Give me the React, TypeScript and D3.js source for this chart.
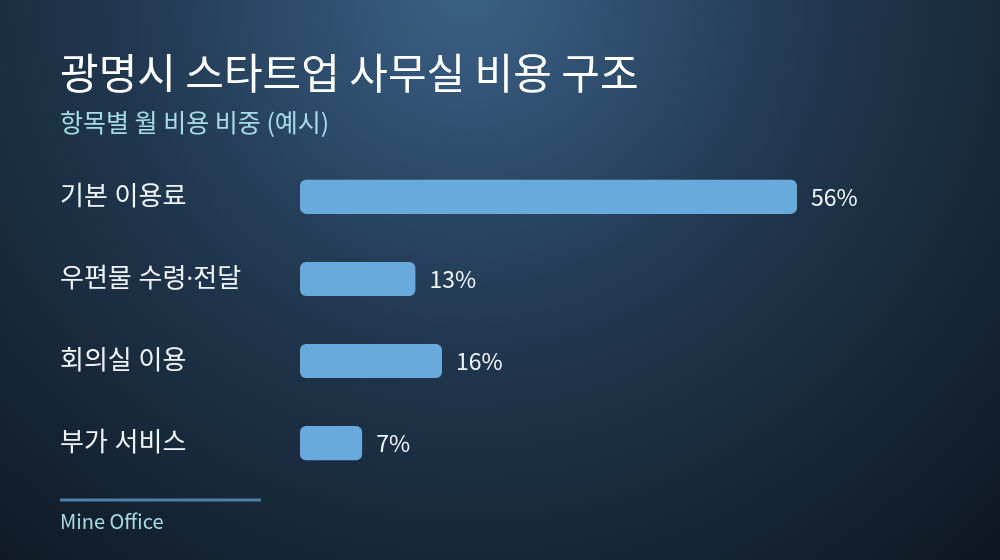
import * as d3 from 'd3';

const width: number = 1000;
const height: number = 560;

// 항목별 비중 (%)
const categories: string[] = ['기본 이용료', '우편물 수령·전달', '회의실 이용', '부가 서비스'];
const shares: number[] = [56, 13, 16, 7];

const title: string = '광명시 스타트업 사무실 비용 구조';
const subtitle: string = '항목별 월 비용 비중 (예시)';
const source: string = 'Mine Office';

const font = '"Noto Sans CJK KR", "Noto Sans", sans-serif';
// latin first so the middle dot stays narrow
const labelFont = '"Noto Sans", "Noto Sans CJK KR", sans-serif';

export default function App() {
  // bar length scale: 56% ends around x=797
  const xScale = d3.scaleLinear()
                   .domain([0, d3.max(shares) as number])
                   .range([300, 797]);

  const yScale = d3.scaleBand()
                   .domain(categories)
                   .range([156, 484])
                   .paddingInner(0.585)
                   .paddingOuter(0.29);

  return (
    <div style={{ position: 'fixed', left: 0, top: 0, width, height }}>
      <svg width={width} height={height} style={{ display: 'block', fontFamily: font }}>
        <defs>
          <radialGradient id="bg" cx="470" cy="-10" r="760" gradientUnits="userSpaceOnUse">
            <stop offset="0" stopColor="#3b6187" />
            <stop offset="0.45" stopColor="#213850" />
            <stop offset="1" stopColor="#0e1823" />
          </radialGradient>
        </defs>
        <rect width={width} height={height} fill="url(#bg)" />

        <text x={60} y={89} fill="#ffffff" fontSize={42} fontWeight={400}>{title}</text>
        <text x={60} y={132} fill="#a6dce6" fontSize={25}>{subtitle}</text>

        {categories.map((c: string, i: number) => {
          const y = yScale(c) as number;
          const bw = yScale.bandwidth();
          return (
            <g key={c}>
              <text x={60} y={y + bw / 2 - 2} dominantBaseline="central" fill="#f2f5f8" fontSize={26} fontFamily={labelFont}>{c}</text>
              <rect x={xScale(0)} y={y} width={xScale(shares[i]) - xScale(0)} height={bw} rx={6} fill="#68aadb" />
              <text x={xScale(shares[i]) + 14} y={y + bw / 2 - 1} dominantBaseline="central" fill="#f2f5f8" fontSize={23}>{shares[i]}%</text>
            </g>
          );
        })}

        <line x1={60} x2={261} y1={500} y2={500} stroke="#4e7fa6" strokeWidth={3} />
        <text x={60} y={529} fill="#a6dce6" fontSize={20}>{source}</text>
      </svg>
    </div>
  );
}
